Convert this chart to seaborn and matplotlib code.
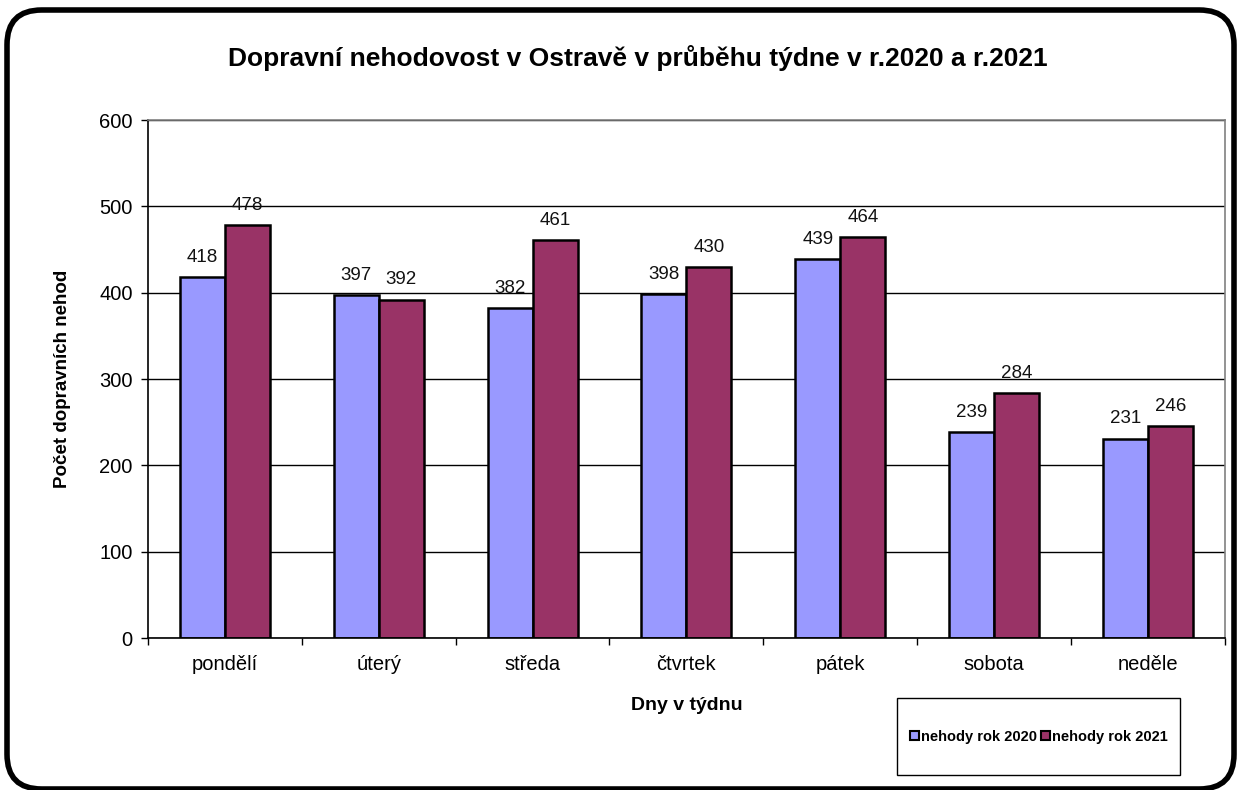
import numpy as np
import pandas as pd
import matplotlib
matplotlib.use("Agg")
import matplotlib.pyplot as plt
from matplotlib.patches import FancyBboxPatch, Rectangle
import seaborn as sns

# data
days = ["pondělí", "úterý", "středa", "čtvrtek", "pátek", "sobota", "neděle"]
nehody_2020 = [418, 397, 382, 398, 439, 239, 231]
nehody_2021 = [478, 392, 461, 430, 464, 284, 246]
series = ["nehody rok 2020", "nehody rok 2021"]
colors = ["#9999FF", "#993366"]

df = pd.DataFrame({
    "den": days * 2,
    "pocet": nehody_2020 + nehody_2021,
    "serie": [series[0]] * len(days) + [series[1]] * len(days),
})

sns.set_style("white")
plt.rcParams["font.family"] = ["Liberation Sans", "DejaVu Sans"]
plt.rcParams.update({"text.color": "black", "axes.labelcolor": "black",
                     "xtick.color": "black", "ytick.color": "black"})

fig = plt.figure(figsize=(12.37, 7.9), dpi=100)
ax = fig.add_axes([0.1196, 0.1924, 0.8706, 0.6557])

sns.barplot(data=df, x="den", y="pocet", hue="serie", palette=colors,
            width=0.585, gap=0, edgecolor="black", linewidth=1.8,
            legend=False, ax=ax, saturation=1)

for cont in ax.containers:
    ax.bar_label(cont, padding=8, fontsize=13.5, color="#111111")

ax.set_ylim(0, 600)
ax.set_xlim(-0.5, len(days) - 0.5)
ax.set_yticks(np.arange(0, 601, 100))
ax.yaxis.grid(True, color="black", linewidth=1)
ax.set_axisbelow(True)
ax.tick_params(axis="y", which="major", left=True, length=5, width=1, labelsize=14.5, pad=6)
ax.tick_params(axis="x", which="major", bottom=False, labelsize=14.5, pad=9)
ax.set_xticks(np.arange(-0.5, len(days)), minor=True)
ax.tick_params(axis="x", which="minor", bottom=True, length=5, width=1)

for s in ["left", "bottom"]:
    ax.spines[s].set_color("black")
    ax.spines[s].set_linewidth(1.2)
for s in ["top", "right"]:
    ax.spines[s].set_color("#808080")
    ax.spines[s].set_linewidth(1.2)

ax.set_xlabel("Dny v týdnu", fontsize=14, fontweight="bold", labelpad=16)
ax.set_ylabel("Počet dopravních nehod", fontsize=13.5, fontweight="bold", labelpad=20)
fig.text(0.516, 0.926, "Dopravní nehodovost v Ostravě v průběhu týdne v r.2020 a r.2021",
         ha="center", va="center", fontsize=19, fontweight="bold")

# rounded outer border
fig.patches.append(FancyBboxPatch((7 / 1237, 1 / 790), 1227 / 1237, 779 / 790,
                                  boxstyle="round,pad=0,rounding_size=0.028",
                                  transform=fig.transFigure, fill=False, edgecolor="black",
                                  linewidth=4, mutation_aspect=1.57))

# legend box
fig.patches.append(Rectangle((897 / 1237, 1 - 775 / 790), 283 / 1237, 77 / 790,
                             transform=fig.transFigure, fill=False, edgecolor="black", linewidth=1))
handles = [Rectangle((0, 0), 1, 1, facecolor=c, edgecolor="black", linewidth=1.5) for c in colors]
fig.legend(handles, series, loc="center", bbox_to_anchor=(1039 / 1237, 1 - 737 / 790),
           ncol=2, frameon=False, handlelength=0.6, handleheight=0.6, handletextpad=0.15,
           columnspacing=0.3, prop={"size": 10.5, "weight": "bold"})

fig.savefig("out.png", dpi=100)
